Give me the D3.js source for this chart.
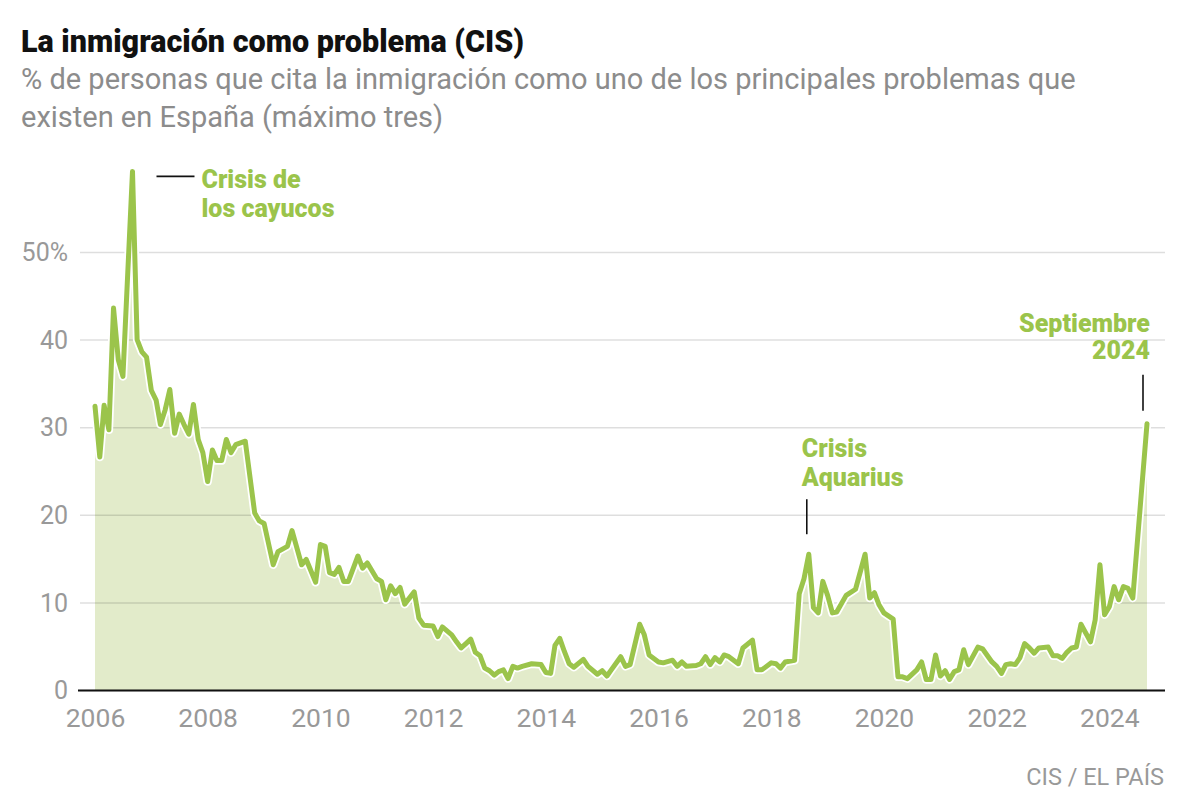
<!DOCTYPE html>
<html><head><meta charset="utf-8">
<script src="https://cdn.jsdelivr.net/npm/d3@7"></script>
<style>
html,body{margin:0;padding:0;background:#fff;}
svg{display:block;font-family:Roboto,"Liberation Sans",sans-serif;}
</style></head>
<body>
<svg id="c" width="1200" height="812"></svg>
<script>
const months = ["2006-01","2006-02","2006-03","2006-04","2006-05","2006-06","2006-07","2006-09","2006-10","2006-11","2006-12",
"2007-01","2007-02","2007-03","2007-04","2007-05","2007-06","2007-07","2007-08","2007-09","2007-10","2007-11","2007-12",
"2008-01","2008-02","2008-03","2008-04","2008-05","2008-06","2008-07","2008-08","2008-09","2008-11","2008-12",
"2009-01","2009-03","2009-04","2009-06","2009-07","2009-09","2009-10","2009-12",
"2010-01","2010-02","2010-03","2010-04","2010-05","2010-06","2010-07","2010-09","2010-10","2010-11",
"2011-01","2011-02","2011-03","2011-04","2011-05","2011-06","2011-07","2011-09","2011-10","2011-11",
"2012-01","2012-02","2012-03","2012-05","2012-06","2012-07","2012-08","2012-09","2012-10","2012-11","2012-12",
"2013-01","2013-02","2013-03","2013-04","2013-05","2013-06","2013-07","2013-08","2013-10","2013-12",
"2014-01","2014-02","2014-03","2014-04","2014-05","2014-06","2014-07","2014-09","2014-10","2014-12",
"2015-01","2015-02","2015-03","2015-05","2015-06","2015-07","2015-09","2015-10","2015-11",
"2016-01","2016-02","2016-04","2016-05","2016-06","2016-07","2016-09","2016-10","2016-11","2016-12",
"2017-01","2017-02","2017-03","2017-04","2017-06","2017-07","2017-09","2017-10","2017-11",
"2018-01","2018-02","2018-03","2018-04","2018-06","2018-07","2018-08","2018-09","2018-10","2018-11","2018-12",
"2019-01","2019-02","2019-03","2019-05","2019-07","2019-09","2019-10","2019-11","2019-12",
"2020-01","2020-03","2020-04","2020-05","2020-06","2020-08","2020-09","2020-10","2020-11","2020-12",
"2021-01","2021-02","2021-03","2021-04","2021-05","2021-06","2021-07","2021-09","2021-10","2021-12",
"2022-01","2022-02","2022-03","2022-04","2022-05","2022-06","2022-07","2022-08","2022-09","2022-10","2022-12",
"2023-01","2023-02","2023-03","2023-04","2023-05","2023-06","2023-07","2023-08","2023-09","2023-10","2023-11","2023-12",
"2024-01","2024-02","2024-03","2024-04","2024-05","2024-06","2024-09"];
const values = [32.4,26.6,32.5,29.7,43.6,37.7,35.8,59.2,40.0,38.6,38.0,
34.2,33.1,30.3,32.0,34.3,29.3,31.5,30.3,29.2,32.6,28.6,27.1,
23.8,27.4,26.2,26.2,28.6,27.1,28.0,28.2,28.4,20.2,19.3,
19.0,14.3,15.8,16.4,18.2,14.3,14.9,12.3,
16.6,16.4,13.4,13.2,14.0,12.4,12.4,15.3,13.9,14.5,
12.7,12.4,10.3,11.9,11.0,11.7,9.8,11.2,8.2,7.4,
7.3,6.1,7.2,6.3,5.5,4.8,5.3,5.8,4.3,3.9,2.5,
2.2,1.7,2.1,2.3,1.3,2.7,2.5,2.7,3.0,2.9,
2.0,1.9,5.1,5.9,4.4,3.0,2.6,3.5,2.7,1.8,
2.2,1.6,2.3,3.8,2.7,2.9,7.5,6.3,4.0,
3.2,3.1,3.4,2.7,3.2,2.7,2.8,3.0,3.8,2.9,
3.7,3.2,4.0,3.8,3.0,4.8,5.7,2.3,2.3,
3.1,3.0,2.5,3.2,3.4,11.0,12.7,15.5,9.4,8.8,12.4,
10.8,8.8,8.9,10.8,11.5,15.5,10.5,11.1,9.7,
8.8,8.1,1.5,1.5,1.3,2.3,3.2,1.2,1.2,4.0,
1.6,2.2,1.2,2.1,2.3,4.6,2.9,4.9,4.7,3.2,
2.7,1.9,2.9,3.0,2.9,3.7,5.3,4.8,4.2,4.8,4.9,
3.9,3.9,3.6,4.3,4.8,4.9,7.5,6.5,5.5,8.0,14.3,8.6,
9.5,11.8,10.3,11.8,11.6,10.5,30.4];
const yTicks = [0,10,20,30,40,50];
const yTickLabels = ["0","10","20","30","40","50%"];
const xTickYears = [2006,2008,2010,2012,2014,2016,2018,2020,2022,2024];
const title = "La inmigración como problema (CIS)";
const subtitleLines = ["% de personas que cita la inmigración como uno de los principales problemas que","existen en España (máximo tres)"];
const annotations = [
  {lines:["Crisis de","los cayucos"], date:"2006-09"},
  {lines:["Crisis","Aquarius"], date:"2018-09"},
  {lines:["Septiembre","2024"], date:"2024-09"}
];
const source = "CIS / EL PAÍS";

const parse = d3.timeParse("%Y-%m");
const data = months.map((m,i)=>({date:parse(m), value:values[i]}));

const green = "#9bc44b", fillC = "#e2ebca", gray = "#999999";
const svg = d3.select("#c");
const x = d3.scaleTime().domain([parse("2006-01"), parse("2024-09")]).range([95,1147]);
const y = d3.scaleLinear().domain([0,50]).range([690,252]);
const gridL = 80, gridR = 1165;

// title
svg.append("text").attr("x",21).attr("y",52).text(title)
  .attr("font-size",30.5).attr("font-weight",900).attr("fill","#111");
svg.selectAll(".sub").data(subtitleLines).enter().append("text")
  .attr("x",21).attr("y",(d,i)=>89+i*38).text(d=>d)
  .attr("font-size",29).attr("fill","#8c8c8c");

// area
const area = d3.area().x(d=>x(d.date)).y0(y(0)).y1(d=>y(d.value));
svg.append("path").datum(data).attr("d",area).attr("fill",fillC);

// grid
const yAxis = d3.axisLeft(y).tickValues(yTicks).tickSize(-(gridR-gridL)).tickFormat((d,i)=>yTickLabels[i]);
const gy = svg.append("g").attr("transform",`translate(${gridL},0)`).call(yAxis);
gy.select(".domain").remove();
gy.selectAll(".tick line").attr("stroke","rgba(0,0,0,0.13)").attr("stroke-width",1.5);
gy.selectAll(".tick text").attr("x",-12).attr("fill",gray).attr("font-size",25)
  .attr("font-family","Roboto, sans-serif").attr("dy","0.35em");

// x axis
const xAxis = d3.axisBottom(x).tickValues(xTickYears.map(yr=>new Date(yr,0,1))).tickSize(0).tickFormat(d3.timeFormat("%Y"));
const gx = svg.append("g").attr("transform",`translate(0,${y(0)})`).call(xAxis);
gx.select(".domain").remove();
gx.selectAll(".tick text").attr("y",37).attr("dy",0).attr("fill",gray).attr("font-size",26.5)
  .attr("font-family","Roboto, sans-serif");
svg.append("line").attr("x1",78).attr("x2",gridR).attr("y1",y(0)+0.5).attr("y2",y(0)+0.5)
  .attr("stroke","#111").attr("stroke-width",2);

// line
const line = d3.line().x(d=>x(d.date)).y(d=>y(d.value)).curve(d3.curveLinear);
svg.append("path").datum(data).attr("d",line).attr("fill","none").attr("stroke","#fff")
  .attr("stroke-width",8.5).attr("stroke-linejoin","round");
svg.append("path").datum(data).attr("d",line).attr("fill","none").attr("stroke",green)
  .attr("stroke-width",5).attr("stroke-linejoin","round").attr("stroke-linecap","round");

// annotations
const aFont = 25, aW = 900;
// cayucos
const a0 = annotations[0];
const p0 = data.find(d=>+d.date===+parse(a0.date));
svg.append("line").attr("x1",x(p0.date)+24).attr("x2",x(p0.date)+62)
  .attr("y1",y(p0.value)+5).attr("y2",y(p0.value)+5).attr("stroke","#111").attr("stroke-width",1.6);
svg.selectAll(".a0").data(a0.lines).enter().append("text")
  .attr("x",x(p0.date)+69).attr("y",(d,i)=>y(p0.value)+17+i*29).text(d=>d)
  .attr("font-size",aFont).attr("font-weight",aW).attr("fill",green);
// aquarius
const a1 = annotations[1];
const p1 = data.find(d=>+d.date===+parse(a1.date));
const ax1 = x(p1.date)-2;
svg.append("line").attr("x1",ax1).attr("x2",ax1).attr("y1",y(p1.value)-55).attr("y2",y(p1.value)-20)
  .attr("stroke","#111").attr("stroke-width",1.6);
svg.selectAll(".a1").data(a1.lines).enter().append("text")
  .attr("x",ax1-5).attr("y",(d,i)=>y(p1.value)-97+i*29).text(d=>d)
  .attr("font-size",aFont).attr("font-weight",aW).attr("fill",green);
// septiembre
const a2 = annotations[2];
const p2 = data.find(d=>+d.date===+parse(a2.date));
const ax2 = x(p2.date)-4;
svg.append("line").attr("x1",ax2).attr("x2",ax2).attr("y1",y(p2.value)-49).attr("y2",y(p2.value)-13)
  .attr("stroke","#111").attr("stroke-width",1.6);
svg.selectAll(".a2").data(a2.lines).enter().append("text")
  .attr("x",ax2+7).attr("y",(d,i)=>y(p2.value)-92+i*27).text(d=>d).attr("text-anchor","end")
  .attr("font-size",aFont).attr("font-weight",aW).attr("fill",green);

// source
svg.append("text").attr("x",1164).attr("y",785).attr("text-anchor","end").text(source)
  .attr("font-size",23.5).attr("fill",gray);
</script>
</body></html>
